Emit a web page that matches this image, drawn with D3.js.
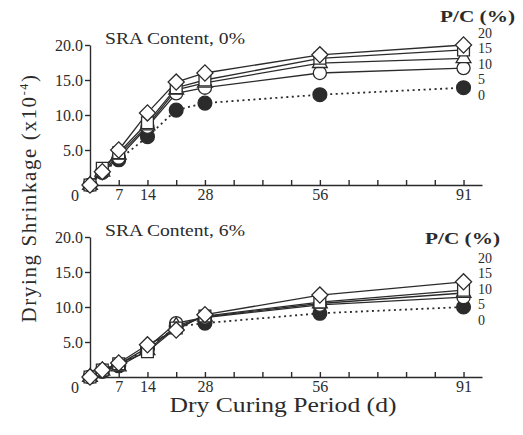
<!DOCTYPE html>
<html>
<head>
<meta charset="utf-8">
<script src="https://cdn.jsdelivr.net/npm/d3@7"></script>
<style>
body { margin: 0; background: #fff; }
svg text { font-family: "Liberation Serif", "Times New Roman", serif; fill: #2b2b2b; }
.axis path, .axis line { stroke: #2b2b2b; stroke-width: 1.4; }
.axis text { font-size: 16px; }
</style>
</head>
<body>
<svg id="chart" width="523" height="435"></svg>
<script>
// dry curing period (d) where shrinkage was measured
var days = [0, 3, 7, 14, 21, 28, 56, 91];
var pcLevels = ["0", "5", "10", "15", "20"];
var xTickDays = [7, 14, 21, 28, 35, 42, 49, 56, 63, 70, 77, 84, 91];
var xTickLabels = [7, 14, 28, 56, 91];
var yTicks = [5, 10, 15, 20];

// SRA content 0%  (drying shrinkage x10^-4)
var sra0_pc0  = [0, 1.8, 3.6, 6.9, 10.7, 11.7, 12.9, 13.9];
var sra0_pc5  = [0, 1.8, 3.9, 8.3, 13.1, 13.9, 16.0, 16.7];
var sra0_pc10 = [0, 1.9, 4.3, 8.5, 13.6, 14.6, 17.4, 18.1];
var sra0_pc15 = [0, 2.4, 4.6, 8.9, 13.9, 15.0, 18.1, 19.3];
var sra0_pc20 = [0, 1.9, 5.0, 10.3, 14.7, 16.0, 18.6, 20.0];

// SRA content 6%
var sra6_pc0  = [0, 0.8, 1.6, 4.0, 7.2, 7.7, 9.1, 10.0];
var sra6_pc5  = [0, 1.0, 1.8, 4.2, 7.7, 8.5, 10.3, 11.4];
var sra6_pc10 = [0, 0.9, 1.5, 3.8, 7.3, 8.6, 10.5, 12.0];
var sra6_pc15 = [0, 1.0, 1.9, 3.6, 7.0, 8.7, 10.7, 12.4];
var sra6_pc20 = [0, 1.0, 2.0, 4.6, 6.7, 8.9, 11.7, 13.6];

// where the P/C labels sit on the right, in shrinkage units
var sra0_labelAt = [12.9, 15.1, 17.3, 19.5, 21.7];
var sra6_labelAt = [8.1, 10.4, 12.6, 14.8, 17.0];

var svg = d3.select("#chart");

var x = d3.scaleLinear()
    .domain([0, 95.5])
    .range([90, 482]);

var panels = [
  { title: "SRA Content, 0%", series: [sra0_pc0, sra0_pc5, sra0_pc10, sra0_pc15, sra0_pc20],
    labelAt: sra0_labelAt, range: [185, 45], pcX: 440, pcY: 22 },
  { title: "SRA Content, 6%", series: [sra6_pc0, sra6_pc5, sra6_pc10, sra6_pc15, sra6_pc20],
    labelAt: sra6_labelAt, range: [377, 237], pcX: 425, pcY: 244 }
];

// marker style per P/C level: filled circle, open circle, triangle, square, diamond
var markers = [
  { type: d3.symbolCircle,   size: 150, fill: "#2b2b2b", rot: 0 },
  { type: d3.symbolCircle,   size: 135, fill: "#fff",    rot: 0 },
  { type: d3.symbolTriangle, size: 95,  fill: "#fff",    rot: 0 },
  { type: d3.symbolSquare,   size: 140, fill: "#fff",    rot: 0 },
  { type: d3.symbolSquare,   size: 130, fill: "#fff",    rot: 45 }
];

panels.forEach(function(p) {
  var y = d3.scaleLinear().domain([0, 20]).range(p.range);
  var g = svg.append("g");

  // AXES
  g.append("g")
    .attr("class", "axis")
    .attr("transform", "translate(" + x(0) + ",0)")
    .call(d3.axisLeft(y).tickValues(yTicks).tickSize(5).tickSizeOuter(0)
      .tickPadding(2).tickFormat(d3.format(".1f")));

  g.append("g")
    .attr("class", "axis")
    .attr("transform", "translate(0," + y(0) + ")")
    .call(d3.axisBottom(x).tickValues(xTickDays).tickSize(-5).tickSizeOuter(0)
      .tickPadding(4)
      .tickFormat(function(d) { return xTickLabels.indexOf(d) >= 0 ? d : ""; }));

  g.selectAll(".axis .domain").attr("stroke-width", 1.6);
  g.selectAll(".axis text").attr("fill", "#2b2b2b");

  g.append("text")
    .attr("x", x(0) - 15)
    .attr("y", y(0) + 16)
    .attr("text-anchor", "middle")
    .style("font-size", "16px")
    .text("0");

  // TITLES
  g.append("text")
    .attr("x", 105)
    .attr("y", y(20) - 1)
    .attr("textLength", 140)
    .attr("lengthAdjust", "spacingAndGlyphs")
    .style("font-size", "17px")
    .text(p.title);

  g.append("text")
    .attr("x", p.pcX)
    .attr("y", p.pcY)
    .attr("textLength", 75)
    .attr("lengthAdjust", "spacingAndGlyphs")
    .style("font-size", "17px")
    .style("font-weight", "bold")
    .text("P/C  (%)");

  // LINES
  var line = d3.line()
    .x(function(d, i) { return x(days[i]); })
    .y(function(d) { return y(d); });

  p.series.forEach(function(s, k) {
    g.append("path")
      .attr("d", line(s))
      .attr("fill", "none")
      .attr("stroke", "#2b2b2b")
      .attr("stroke-width", k === 0 ? 1.8 : 1.3)
      .attr("stroke-dasharray", k === 0 ? "2,3.5" : null);
  });

  // MARKERS
  p.series.forEach(function(s, k) {
    var m = markers[k];
    g.selectAll(null)
      .data(s)
      .enter()
      .append("path")
      .attr("d", d3.symbol().type(m.type).size(m.size))
      .attr("transform", function(d, i) {
        return "translate(" + x(days[i]) + "," + y(d) + ") rotate(" + m.rot + ")";
      })
      .attr("fill", m.fill)
      .attr("stroke", "#2b2b2b")
      .attr("stroke-width", 1.3);
  });

  // P/C LABELS
  g.selectAll(null)
    .data(pcLevels)
    .enter()
    .append("text")
    .attr("x", 478)
    .attr("y", function(d, i) { return y(p.labelAt[i]); })
    .attr("dy", "0.35em")
    .style("font-size", "14px")
    .text(function(d) { return d; });
});

// AXIS TITLES
svg.append("text")
  .attr("x", 283)
  .attr("y", 412)
  .attr("text-anchor", "middle")
  .attr("textLength", 227)
  .attr("lengthAdjust", "spacingAndGlyphs")
  .style("font-size", "20px")
  .text("Dry Curing Period (d)");

var yt = svg.append("text")
  .attr("transform", "translate(36,198) rotate(-90)")
  .attr("text-anchor", "middle")
  .style("font-size", "21px")
  .style("letter-spacing", "1.6px");
yt.append("tspan").text("Drying Shrinkage (x10");
yt.append("tspan").attr("dy", -8).style("font-size", "12px").text("-4");
yt.append("tspan").attr("dy", 8).text(")");
</script>
</body>
</html>
